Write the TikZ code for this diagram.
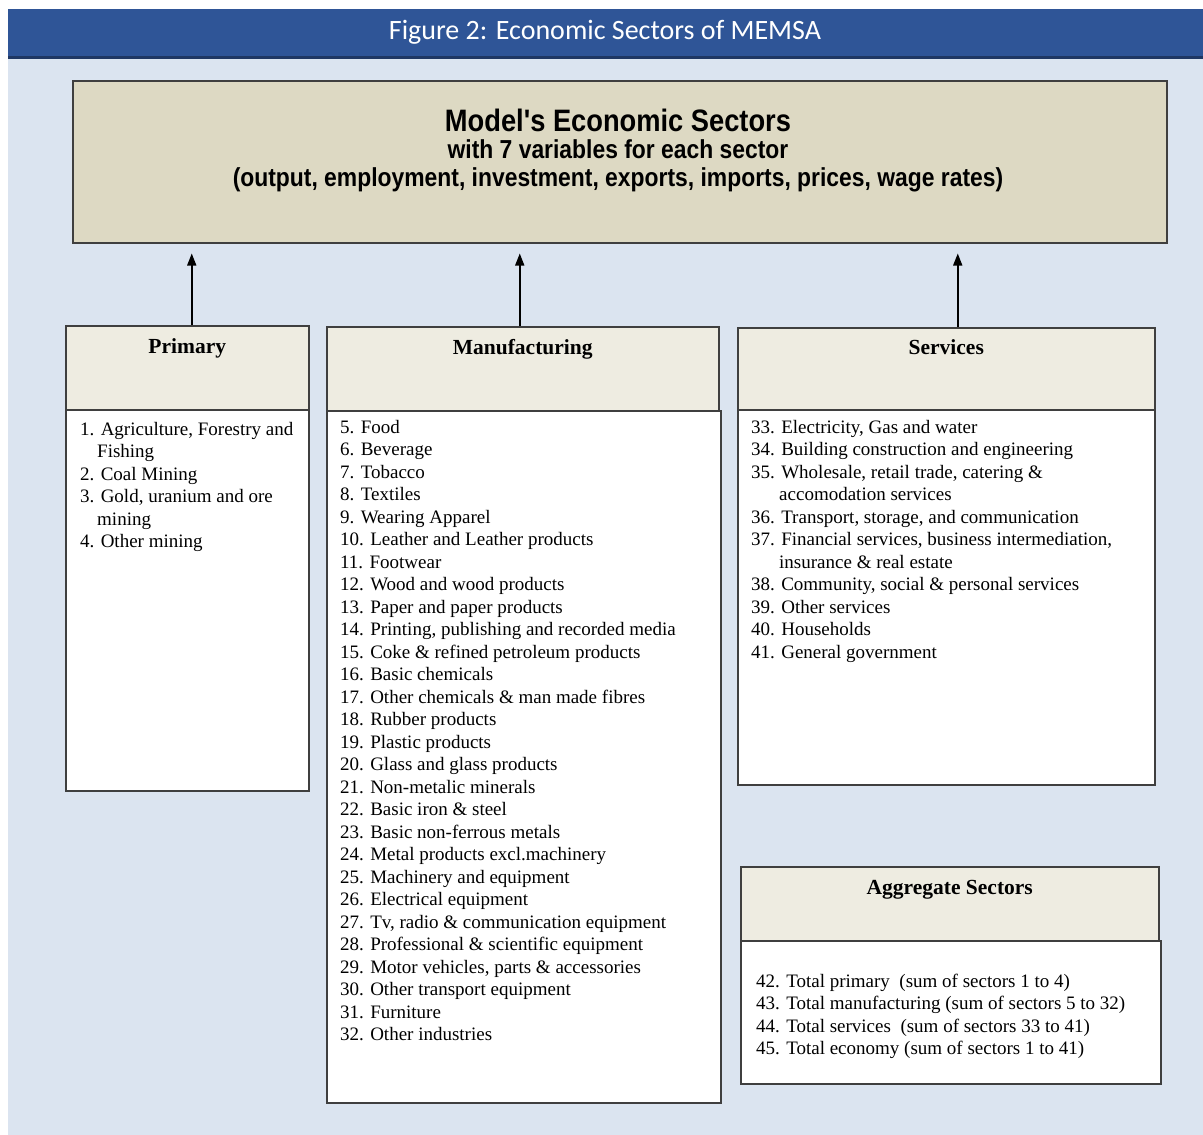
\documentclass[tikz,border=0pt]{standalone}
\usepackage{fontspec}
\setmainfont{Liberation Serif}
\newfontfamily\titlefont{Carlito}
\newfontfamily\narrowfont[FakeStretch=0.88]{Liberation Sans}
\usetikzlibrary{arrows.meta}
\definecolor{barblue}{HTML}{2F5597}
\definecolor{bardark}{HTML}{1F3763}
\definecolor{paleblue}{HTML}{DBE4F0}
\definecolor{boxtan}{HTML}{DDD9C3}
\definecolor{headtan}{HTML}{EEECE1}
\definecolor{edgegray}{HTML}{3F3F3F}

\begin{document}
\begin{tikzpicture}[x=1pt,y=-1pt,
	box/.style={draw=edgegray, line width=1.5pt, rectangle, inner sep=0pt, anchor=north west},
	hdr/.style={box, fill=headtan, font=\fontsize{21.5}{24}\selectfont\bfseries},
	body/.style={box, fill=white},
	list/.style={inner sep=0pt, anchor=base west, font=\fontsize{19}{22.5}\selectfont},
	arr/.style={-{Triangle[length=12pt,width=9pt]}, line width=1.5pt, shorten >=10pt}]
	\useasboundingbox (0,0) rectangle (1203,1135);
	\fill[white] (0,0) rectangle (1203,1135);
	\fill[paleblue] (8,59) rectangle (1203,1135);
	\fill[barblue] (8,9) rectangle (1203,56);
	\fill[bardark] (8,56) rectangle (1203,59);
	\node[anchor=base, text=white, font=\titlefont\fontsize{28}{30}\selectfont] (title) at (605,39) {Figure 2: Economic Sectors of MEMSA};

	\node[box, fill=boxtan, minimum width=1094pt, minimum height=162pt] (model) at (72,80) {};
	\node[anchor=base, font=\narrowfont\bfseries\fontsize{31}{33}\selectfont] (modelA) at (618,131) {Model's Economic Sectors};
	\node[anchor=base, font=\narrowfont\bfseries\fontsize{26}{28}\selectfont] (modelB) at (618,158) {with 7 variables for each sector};
	\node[anchor=base, font=\narrowfont\bfseries\fontsize{26}{28}\selectfont] (modelC) at (618,186) {(output, employment, investment, exports, imports, prices, wage rates)};

	\node[hdr, minimum width=243pt, text height=28pt, text depth=56pt] (prim) at (65,325) {Primary};
	\node[body, minimum width=243pt, minimum height=381pt] (primbody) at (65,409) {};
	\node[list] (primlist) at (80,435) {\begin{tabular}[t]{@{}l@{}}
		1. Agriculture, Forestry and\\
		\hspace*{17pt}Fishing\\
		2. Coal Mining\\
		3. Gold, uranium and ore\\
		\hspace*{17pt}mining\\
		4. Other mining
	\end{tabular}};

	\node[hdr, minimum width=392pt, text height=28pt, text depth=56pt] (manu) at (326,326) {Manufacturing};
	\node[body, minimum width=394pt, minimum height=692pt] (manubody) at (326,410) {};
	\node[list] (manulist) at (340,433) {\begin{tabular}[t]{@{}l@{}}
		5. Food\\
		6. Beverage\\
		7. Tobacco\\
		8. Textiles\\
		9. Wearing Apparel\\
		10. Leather and Leather products\\
		11. Footwear\\
		12. Wood and wood products\\
		13. Paper and paper products\\
		14. Printing, publishing and recorded media\\
		15. Coke \& refined petroleum products\\
		16. Basic chemicals\\
		17. Other chemicals \& man made fibres\\
		18. Rubber products\\
		19. Plastic products\\
		20. Glass and glass products\\
		21. Non-metalic minerals\\
		22. Basic iron \& steel\\
		23. Basic non-ferrous metals\\
		24. Metal products excl.machinery\\
		25. Machinery and equipment\\
		26. Electrical equipment\\
		27. Tv, radio \& communication equipment\\
		28. Professional \& scientific equipment\\
		29. Motor vehicles, parts \& accessories\\
		30. Other transport equipment\\
		31. Furniture\\
		32. Other industries
	\end{tabular}};

	\node[hdr, minimum width=417pt, text height=27pt, text depth=55pt] (serv) at (737,327) {Services};
	\node[body, minimum width=417pt, minimum height=375pt] (servbody) at (737,409) {};
	\node[list] (servlist) at (751,433) {\begin{tabular}[t]{@{}l@{}}
		33. Electricity, Gas and water\\
		34. Building construction and engineering\\
		35. Wholesale, retail trade, catering \&\\
		\hspace*{28pt}accomodation services\\
		36. Transport, storage, and communication\\
		37. Financial services, business intermediation,\\
		\hspace*{28pt}insurance \& real estate\\
		38. Community, social \& personal services\\
		39. Other services\\
		40. Households\\
		41. General government
	\end{tabular}};

	\node[hdr, minimum width=418pt, text height=28pt, text depth=46pt] (aggr) at (740,866) {Aggregate Sectors};
	\node[body, minimum width=420pt, minimum height=143pt] (aggrbody) at (740,940) {};
	\node[list] (aggrlist) at (756,987) {\begin{tabular}[t]{@{}l@{}}
		42. Total primary\ \ (sum of sectors 1 to 4)\\
		43. Total manufacturing (sum of sectors 5 to 32)\\
		44. Total services\ \ (sum of sectors 33 to 41)\\
		45. Total economy (sum of sectors 1 to 41)
	\end{tabular}};

	\draw[arr] ([xshift=4.5pt]prim.north) -- ([xshift=4.5pt]prim.north |- model.south);
	\draw[arr] ([xshift=-3pt]manu.north) -- ([xshift=-3pt]manu.north |- model.south);
	\draw[arr] ([xshift=11.5pt]serv.north) -- ([xshift=11.5pt]serv.north |- model.south);
\end{tikzpicture}
\end{document}
